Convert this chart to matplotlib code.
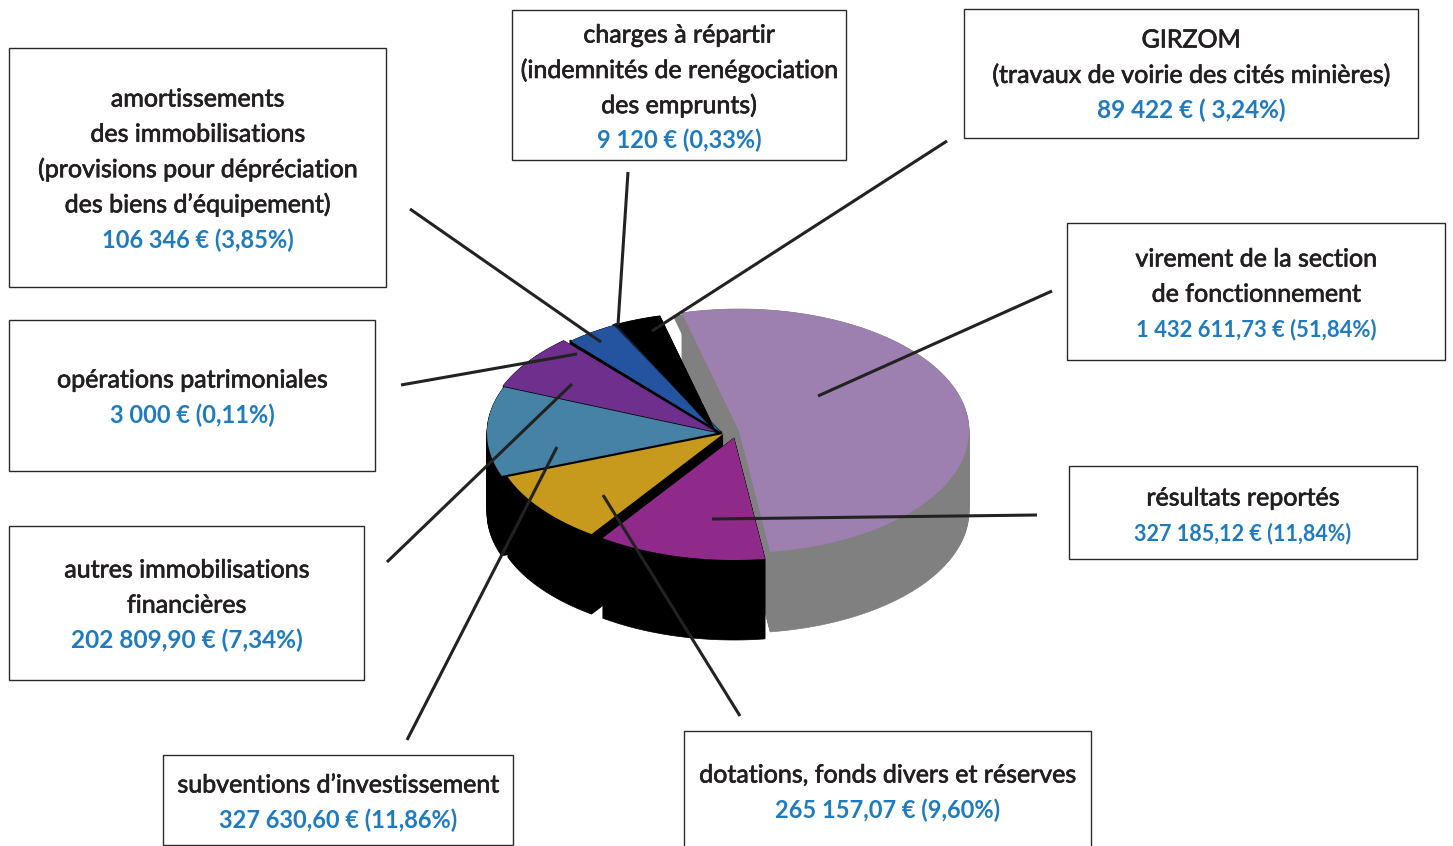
import matplotlib
matplotlib.use("Agg")
import matplotlib.pyplot as plt
import matplotlib.patheffects as pe
from matplotlib.patches import Rectangle
import numpy as np

plt.rcParams["font.family"] = ["Lato", "DejaVu Sans"]

W, H = 1453, 846

# clockwise from the top-left edge of the big slice
CATEGORIES = ["virement", "resultats", "dotations", "subventions", "autres",
              "operations", "amortissements", "charges", "girzom"]
PERCENT = [51.84, 11.84, 9.60, 11.86, 7.34, 0.11, 3.85, 0.33, 3.24]
TOP_COLORS = ["#9d80b0", "#8f2a8a", "#c79a1e", "#4682a5", "#6f2f8c",
              "#0c2a40", "#24549f", "#10203a", "#000000"]
SIDE_COLORS = ["#808080"] + ["#000000"] * 8
# slice offsets from the pie centre, px
EXPLODE = [(17, -2), (12, 5), (1, 1), (-5, 0), (-6, -1),
           (0, -1), (0, 0), (-4, 0), (-5, 1)]

NAMES = {
    "virement": ["virement de la section", "de fonctionnement"],
    "resultats": ["résultats reportés"],
    "dotations": ["dotations, fonds divers et réserves"],
    "subventions": ["subventions d’investissement"],
    "autres": ["autres immobilisations", "financières"],
    "operations": ["opérations patrimoniales"],
    "amortissements": ["amortissements", "des immobilisations",
                       "(provisions pour dépréciation", "des biens d’équipement)"],
    "charges": ["charges à répartir", "(indemnités de renégociation", "des emprunts)"],
    "girzom": ["GIRZOM", "(travaux de voirie des cités minières)"],
}
AMOUNTS = {
    "virement": "1 432 611,73 € (51,84%)",
    "resultats": "327 185,12 € (11,84%)",
    "dotations": "265 157,07 € (9,60%)",
    "subventions": "327 630,60 € (11,86%)",
    "autres": "202 809,90 € (7,34%)",
    "operations": "3 000 € (0,11%)",
    "amortissements": "106 346 € (3,85%)",
    "charges": "9 120 € (0,33%)",
    "girzom": "89 422 € ( 3,24%)",
}
AMOUNT_SIZE = {"virement": 15.8, "resultats": 15.5, "girzom": 17.5, "autres": 17.6}

# box (x0, y0, x1, y1) and y of the first text line, px
BOXES = {
    "amortissements": ((9, 48, 386, 287), 99),
    "operations": ((9, 320, 375, 471), 380),
    "autres": ((9, 526, 364, 680), 570),
    "subventions": ((163, 755, 513, 845), 785),
    "dotations": ((684, 731, 1091, 860), 775),
    "resultats": ((1069, 466, 1417, 559), 498),
    "virement": ((1067, 223, 1445, 360), 259),
    "girzom": ((964, 9, 1418, 138), 40),
    "charges": ((512, 10, 846, 160), 35),
}
LEADERS = [
    ((410, 209), (601, 342)), ((628, 172), (618, 325)), ((947, 141), (652, 331)),
    ((1052, 291), (818, 396)), ((1037, 515), (712, 519)), ((740, 716), (603, 495)),
    ((407, 740), (557, 447)), ((387, 562), (572, 384)), ((401, 385), (577, 354)),
]

CX, CY, RX, RY = 722, 433, 230, 122
DEPTH = 80
START = 345.6


def wedge_xy(a0, a1, off):
    t = np.radians(np.linspace(a0, a1, 200))
    x = CX + off[0] + RX * np.sin(t)
    y = CY + off[1] - RY * np.cos(t)
    return np.r_[CX + off[0], x], np.r_[CY + off[1], y]


fig = plt.figure(figsize=(W / 100, H / 100), dpi=100)
ax = fig.add_axes([0, 0, 1, 1])
ax.set_xlim(0, W); ax.set_ylim(H, 0); ax.axis("off")

edges = START + np.r_[0, np.cumsum(PERCENT)] * 3.6
for i in range(len(PERCENT)):
    x, y = wedge_xy(edges[i], edges[i + 1], EXPLODE[i])
    if i == 0:
        ax.fill(x - 9, y + 3, color=SIDE_COLORS[i], lw=0, zorder=1)
    for k in range(DEPTH + 1):
        ax.fill(x, y + k, color=SIDE_COLORS[i], lw=0.5, zorder=1 + i * 0.01)
    ax.fill(x, y, color=TOP_COLORS[i], lw=0, zorder=2 + i * 0.01)

for (a, b) in LEADERS:
    ax.plot([a[0], b[0]], [a[1], b[1]], color="#222222", lw=2.2, zorder=5,
            solid_capstyle="butt")

stroke = [pe.withStroke(linewidth=0.5, foreground="#231f20")]
for name, ((x0, y0, x1, y1), ytext) in BOXES.items():
    ax.add_patch(Rectangle((x0, y0), x1 - x0, y1 - y0, fc="white", ec="#2a2a2a", lw=1, zorder=4))
    xc = (x0 + x1) / 2
    y = ytext
    for line in NAMES[name]:
        ax.text(xc, y, line, ha="center", va="center", fontsize=18, color="#231f20",
                zorder=6, path_effects=stroke)
        y += 35.2
    ax.text(xc, y, AMOUNTS[name], ha="center", va="center", fontsize=AMOUNT_SIZE.get(name, 17),
            fontweight="bold", color="#1f7bbf", zorder=6)

fig.savefig("out.png", dpi=100)
